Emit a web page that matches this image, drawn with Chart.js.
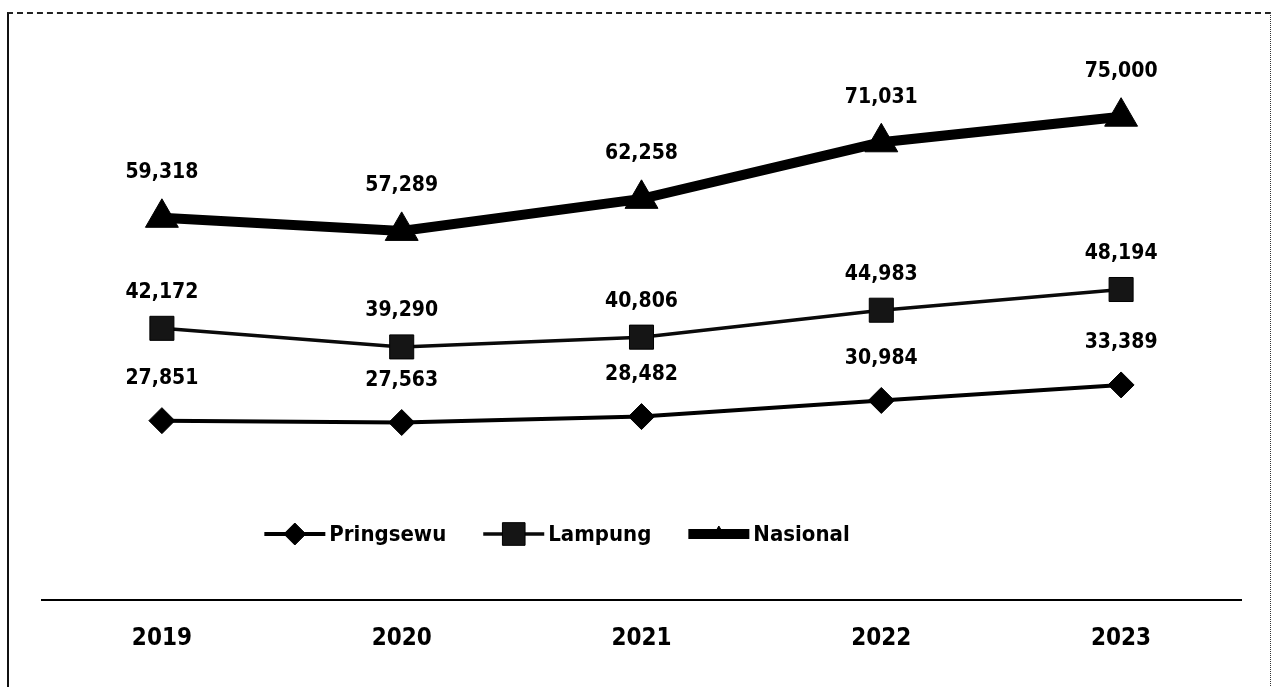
<!DOCTYPE html>
<html><head><meta charset="utf-8">
<script src="https://cdn.jsdelivr.net/npm/chart.js@4.4.1/dist/chart.umd.min.js"></script>
<style>
html,body{margin:0;padding:0;background:#fff;overflow:hidden;}
#wrap{position:relative;width:1273px;height:687px;}
#frame{position:absolute;left:7px;top:12px;width:1264px;height:700px;border-left:2px solid #111;border-top:2px dashed #222;border-right:1.5px dotted #333;box-sizing:border-box;}
canvas{position:absolute;left:0;top:0;}
</style></head>
<body><div id="wrap"><div id="frame"></div><canvas id="c" width="1273" height="687"></canvas></div>
<script>
const categories = ['2019', '2020', '2021', '2022', '2023'];
const pringsewu = [27851, 27563, 28482, 30984, 33389];
const lampung = [42172, 39290, 40806, 44983, 48194];
const nasional = [59318, 57289, 62258, 71031, 75000];
const seriesNames = ['Pringsewu', 'Lampung', 'Nasional'];

const FONT = '"DejaVu Sans Condensed", "Liberation Sans Narrow", "DejaVu Sans", sans-serif';

const labelPlugin = {
  id: 'valueLabels',
  afterDatasetsDraw(chart) {
    const ctx = chart.ctx;
    ctx.save();
    ctx.fillStyle = '#000';
    ctx.font = 'bold 21px ' + FONT;
    ctx.textAlign = 'center';
    ctx.textBaseline = 'middle';
    chart.data.datasets.forEach((ds, di) => {
      const meta = chart.getDatasetMeta(di);
      meta.data.forEach((pt, i) => {
        const v = ds.data[i];
        ctx.fillText(v.toLocaleString('en-US'), pt.x, pt.y - ds.labelOffset);
      });
    });
    ctx.restore();
  }
};

const legendPlugin = {
  id: 'customLegend',
  afterDraw(chart, args, opts) {
    const ctx = chart.ctx;
    ctx.save();
    ctx.font = 'bold 22px ' + FONT;
    ctx.textBaseline = 'middle';
    ctx.textAlign = 'left';
    const sample = 61, gapText = 4, gapItem = 37;
    const items = chart.data.datasets.map(ds => ({ds, w: ctx.measureText(ds.label).width}));
    let total = 0;
    items.forEach((it, i) => { total += sample + gapText + it.w + (i < items.length - 1 ? gapItem : 0); });
    let x = opts.centerX - total / 2;
    const y = opts.y;
    items.forEach(it => {
      const ds = it.ds;
      ctx.strokeStyle = ds.borderColor;
      ctx.lineWidth = ds.borderWidth;
      ctx.beginPath();
      ctx.moveTo(x, y);
      ctx.lineTo(x + sample, y);
      ctx.stroke();
      ctx.fillStyle = ds.pointBackgroundColor;
      ctx.strokeStyle = ds.pointBorderColor;
      ctx.lineWidth = 1;
      Chart.helpers.drawPoint(ctx, {pointStyle: ds.pointStyle, radius: ds.legendRadius, rotation: 0, borderWidth: 1}, x + sample / 2, y);
      ctx.fillStyle = '#000';
      ctx.fillText(ds.label, x + sample + gapText, y + 1);
      x += sample + gapText + it.w + gapItem;
    });
    ctx.restore();
  }
};

new Chart(document.getElementById('c'), {
  type: 'line',
  data: {
    labels: categories,
    datasets: [
      {
        label: seriesNames[0], data: pringsewu,
        borderColor: '#000', borderWidth: 4,
        pointStyle: 'rectRot', pointRadius: 13, pointBackgroundColor: '#000', pointBorderColor: '#000', pointBorderWidth: 1,
        labelOffset: 42, legendRadius: 11, tension: 0
      },
      {
        label: seriesNames[1], data: lampung,
        borderColor: '#0a0a0a', borderWidth: 3.5,
        pointStyle: 'rect', pointRadius: 17, pointBackgroundColor: '#151515', pointBorderColor: '#000', pointBorderWidth: 1,
        labelOffset: 36, legendRadius: 16, tension: 0
      },
      {
        label: seriesNames[2], data: nasional,
        borderColor: '#000', borderWidth: 10,
        pointStyle: 'triangle', pointRadius: 19, pointBackgroundColor: '#000', pointBorderColor: '#000', pointBorderWidth: 1,
        labelOffset: 45, legendRadius: 8, tension: 0
      }
    ]
  },
  options: {
    responsive: false,
    devicePixelRatio: 1,
    animation: false,
    layout: {padding: {left: 42, right: 32, top: 16, bottom: 10}},
    plugins: {
      legend: {display: false},
      tooltip: {enabled: false},
      customLegend: {centerX: 557, y: 534}
    },
    scales: {
      x: {
        offset: true,
        grid: {display: false, drawTicks: false},
        border: {display: true, color: '#000', width: 2},
        ticks: {color: '#000', font: {family: FONT, size: 24, weight: 'bold'}, padding: 24}
      },
      y: {display: false, min: 0, max: 90000}
    }
  },
  plugins: [labelPlugin, legendPlugin]
});
</script>
</body></html>
